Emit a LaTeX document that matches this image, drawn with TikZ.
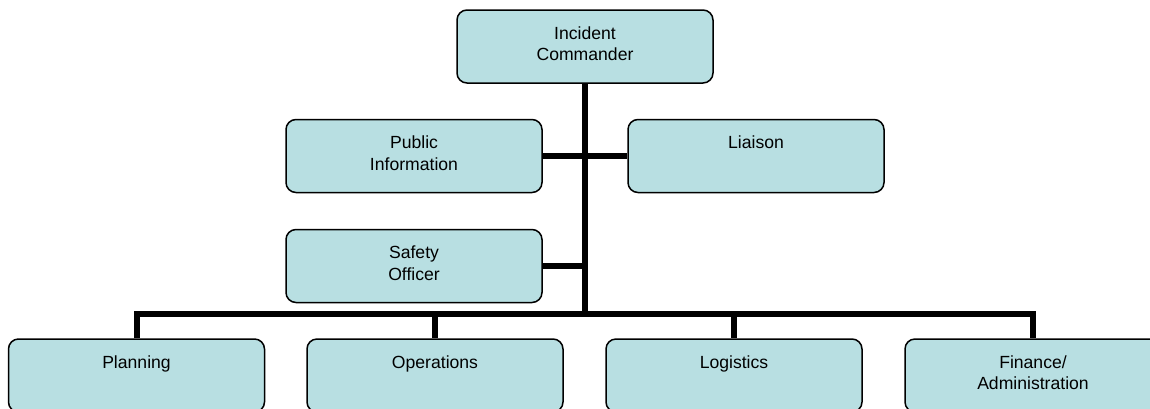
\documentclass[tikz,border=0pt]{standalone}
\usepackage{fontspec}
\setmainfont{Liberation Sans}
\usepackage{xcolor}
\usepackage{tikz}
\definecolor{unitfill}{RGB}{184,223,226}

\tikzset{
  unit/.style={draw=black, line width=1.5pt, fill=unitfill, rounded corners=10pt,
    minimum width=256pt, minimum height=73pt, inner sep=0pt,
    label={[unittext]north:#1}},
  unittext/.style={anchor=north, align=center, inner sep=0pt, label distance=-17pt,
    font=\fontsize{17.6}{21.5}\selectfont},
  conn/.style={line width=6pt}
}

\begin{document}
\begin{tikzpicture}[x=1pt,y=-1pt]
\useasboundingbox (0,0) rectangle (1150,408);

\node[unit={Incident\\Commander}] (ic) at (585,46.5) {};
\node[unit={Public\\Information}] (pub) at (414,156) {};
\node[unit={Liaison}] (liaison) at (756,156) {};
\node[unit={Safety\\Officer}] (safety) at (414,266) {};

\node[unit={Planning}] (plan) at (136.5,375.5) {};
\node[unit={Operations}] (ops) at (435,375.5) {};
\node[unit={Logistics}] (log) at (734,375.5) {};
\node[unit={Finance/\\Administration}] (fin) at (1033,375.5) {};

\coordinate (bus) at (585,314);

\draw[conn] (ic.south) -- (bus);
\draw[conn] (pub.east) -- (liaison.west);
\draw[conn] (safety.east) -- (safety.east -| bus);
\draw[conn] (plan.north) -- (plan.north |- bus) -- (fin.north |- bus) -- (fin.north);
\foreach \n in {ops,log}
  \draw[conn] (\n.north |- bus) -- (\n.north);
\end{tikzpicture}
\end{document}
